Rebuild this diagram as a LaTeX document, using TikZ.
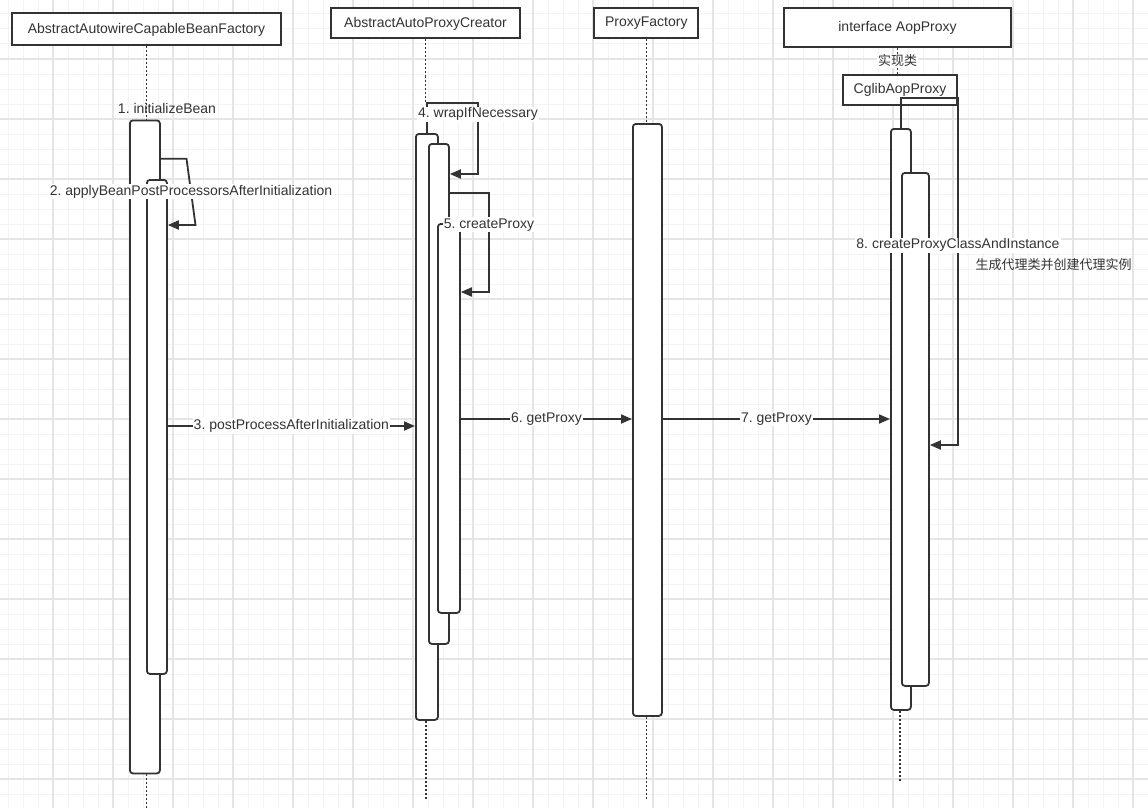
\documentclass[tikz,border=0pt]{standalone}
\usepackage{fontspec}
\setmainfont{Liberation Sans}
\newfontfamily\cjk{Noto Sans CJK SC}
\usetikzlibrary{arrows.meta}
\definecolor{ink}{HTML}{333333}
\definecolor{gridminor}{HTML}{F3F3F3}
\definecolor{gridmajor}{HTML}{E5E5E5}
\tikzset{
  hdr/.style={draw=ink, line width=2pt, fill=white, inner sep=0pt, text=ink},
  act/.style={draw=ink, line width=1.8pt, fill=white, rounded corners=3pt, inner sep=0pt, anchor=north west},
  life/.style={draw=ink, line width=1.6pt, dash pattern=on 2pt off 2pt},
  msg/.style={draw=ink, line width=1.8pt, -{Triangle[length=11pt,width=9pt]}},
  lbl/.style={fill=white, inner sep=1pt, text=ink},
  cjktext/.style={font=\cjk\fontsize{13}{15}\selectfont, text=ink},
}
\begin{document}
\frenchspacing
\begin{tikzpicture}[x=1pt, y=-1pt, font=\fontsize{14}{16}\selectfont]
\useasboundingbox (0,0) rectangle (1148,808);
\fill[white] (0,0) rectangle (1148,808);
% grid
\foreach \gx in {8,23,...,1148} \draw[gridminor, line width=1pt] (\gx,0) -- (\gx,808);
\foreach \gy in {14,29,...,808} \draw[gridminor, line width=1pt] (0,\gy) -- (1148,\gy);
\foreach \gx in {53,113,...,1148} \draw[gridmajor, line width=1.2pt] (\gx,0) -- (\gx,808);
\foreach \gy in {59,119,...,808} \draw[gridmajor, line width=1.2pt] (0,\gy) -- (1148,\gy);

% headers
\node[hdr, minimum width=269pt, minimum height=32pt] (h1) at (146.5,29.5) {AbstractAutowireCapableBeanFactory};
\node[hdr, minimum width=189pt, minimum height=30pt] (h2) at (425.5,23.5) {AbstractAutoProxyCreator};
\node[hdr, minimum width=104pt, minimum height=30pt] (h3) at (646.3,23.5) {ProxyFactory};
\node[hdr, minimum width=227pt, minimum height=39pt] (h4) at (897.5,28) {interface AopProxy};
\node[hdr, minimum width=114pt, minimum height=30pt] (cg) at (900,89.5) {CglibAopProxy};

% lifeline ends
\coordinate (e1) at (146.4,808);
\coordinate (e2) at (426,800);
\coordinate (e3) at (646.5,800);
\coordinate (e4) at (900,781);

% activations
\node[act, minimum width=30pt, minimum height=653pt] (a1) at (129,119.5) {};
\node[act, minimum width=20pt, minimum height=494pt] (b1) at (146,179) {};
\node[act, minimum width=22pt, minimum height=586pt] (a2) at (415,133) {};
\node[act, minimum width=20pt, minimum height=500pt] (b2) at (428,143) {};
\node[act, minimum width=22pt, minimum height=389pt] (c2) at (437,223) {};
\node[act, minimum width=29pt, minimum height=592pt] (a3) at (632,123) {};
\node[act, minimum width=20pt, minimum height=581pt] (a4) at (890,128) {};
\node[act, minimum width=27pt, minimum height=513pt] (b4) at (901,172) {};

% bend points
\coordinate (k2a) at (186.5,158.7);
\coordinate (k2b) at (195.5,225);
\coordinate (k3) at (0,426);
\coordinate (k4a) at (478,103);
\coordinate (k4b) at (478,174);
\coordinate (k5a) at (489,193);
\coordinate (k5b) at (489,292);
\coordinate (k6) at (0,419);
\coordinate (k8a) at (958,98);
\coordinate (k8b) at (958,445);

% lifelines
\path[life] (e1 |- h1.south) -- (e1 |- a1.north);
\path[life] (e1 |- a1.south) -- (e1);
\path[life] (h2.south) -- (h2.south |- k4a);
\path[life] (e2 |- a2.south) -- (e2);
\path[life] (h3.south) -- (h3.south |- a3.north);
\path[life] (e3 |- a3.south) -- (e3);
\path[life] (h4.south) -- node[lbl, cjktext] (t0) {实现类} (h4.south |- cg.north);
\path[life] (e4 |- a4.south) -- (e4);

% messages
\node[text=ink] (t1) at (167,108.5) {1. initializeBean};
\path[msg] (a1.east |- k2a) -- (k2a) -- node[lbl] (t2) {2. applyBeanPostProcessorsAfterInitialization} (k2b) -- (b1.east |- k2b);
\path[msg] (b1.east |- k3) -- node[lbl] (t3) {3. postProcessAfterInitialization} (a2.west |- k3);
\path[msg] (a2.north) -- (a2.north |- k4a) -- (k4a) -- node[lbl, pos=0.16] (t4) {4. wrapIfNecessary} (k4b) -- (b2.east |- k4b);
\path[msg] (b2.east |- k5a) -- (k5a) -- node[lbl, pos=0.32] (t5) {5. createProxy} (k5b) -- (c2.east |- k5b);
\path[msg] (c2.east |- k6) -- node[lbl] (t6) {6. getProxy} (a3.west |- k6);
\path[msg] (a3.east |- k6) -- node[lbl] (t7) {7. getProxy} (a4.west |- k6);
\path[msg] (a4.north) -- (a4.north |- k8a) -- (k8a) -- node[lbl, pos=0.424] (t8) {8. createProxyClassAndInstance} (k8b) -- (b4.east |- k8b);
\node[cjktext] (t9) at (1053.5,265) {生成代理类并创建代理实例};
\end{tikzpicture}
\end{document}
